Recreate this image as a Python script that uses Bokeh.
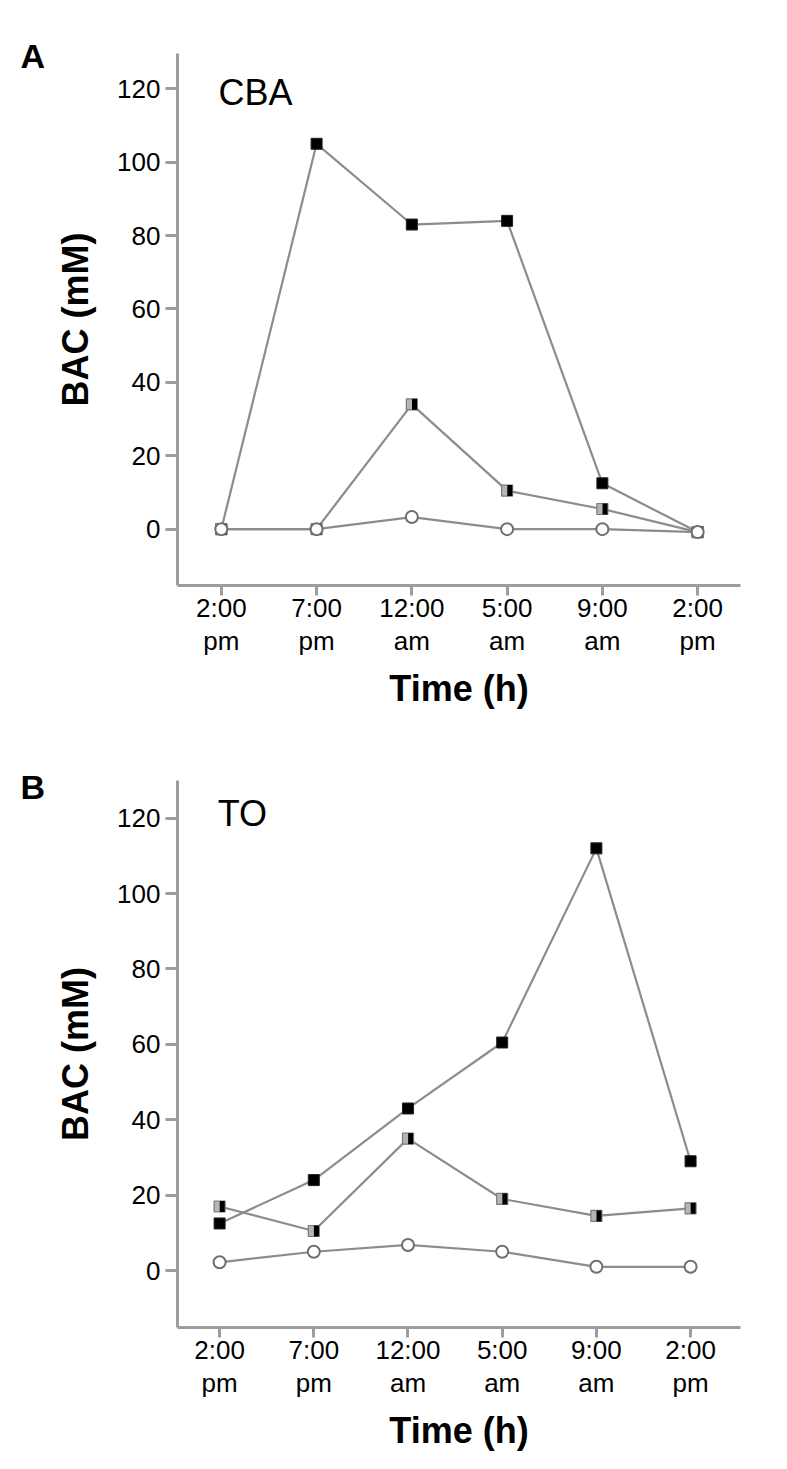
from bokeh.plotting import figure
from bokeh.models import ColumnDataSource, Range1d, Label
from bokeh.layouts import column
from bokeh.transform import dodge
from bokeh.embed import file_html
from bokeh.resources import INLINE

# ---------------- data ----------------
time_labels = ["2:00\npm", "7:00\npm", "12:00\nam", "5:00\nam", "9:00\nam", "2:00\npm"]
time_index = [0, 1, 2, 3, 4, 5]
y_ticks = [0, 20, 40, 60, 80, 100, 120]

cba_high = [0, 105, 83, 84, 12.5, -0.8]
cba_mid = [0, 0, 34, 10.5, 5.5, -0.8]
cba_low = [0, 0, 3.3, 0, 0, -0.8]

to_high = [12.5, 24, 43, 60.5, 112, 29]
to_mid = [17, 10.5, 35, 19, 14.5, 16.5]
to_low = [2.2, 5, 6.8, 5, 1, 1]

FONT = "Liberation Sans"
AXIS_GRAY = "#9d9d9d"
LINE_GRAY = "#8c8c8c"
W = 787


def make_panel(letter, strain, high, mid, low, height, b_top, b_bottom, b_right,
               x_range, y_range, letter_standoff, strain_pos):
    p = figure(width=W, height=height, output_backend="svg", toolbar_location=None,
               x_range=Range1d(*x_range), y_range=Range1d(*y_range),
               min_border_left=177, min_border_right=b_right,
               min_border_top=b_top, min_border_bottom=b_bottom)
    p.outline_line_color = None
    p.grid.visible = False
    p.background_fill_color = "white"

    # panel letter as the plot title, pulled to the left of the frame
    p.title.text = letter
    p.title.align = "left"
    p.title.offset = -157
    p.title.standoff = letter_standoff
    p.title.text_font = FONT
    p.title.text_font_size = "34px"
    p.title.text_font_style = "bold"
    p.title.text_color = "black"

    src = ColumnDataSource(dict(x=time_index, high=high, mid=mid, low=low))

    for col in ("high", "mid", "low"):
        p.line("x", col, source=src, line_color=LINE_GRAY, line_width=2.2)

    # filled squares
    p.scatter("x", "high", source=src, marker="square", size=11,
              fill_color="black", line_color="#222222")
    # half-filled squares
    p.scatter("x", "mid", source=src, marker="square", size=11,
              fill_color="#b5b5b5", line_color="#7a7a7a", line_width=1.2)
    p.rect(x=dodge("x", 0.028, range=p.x_range), y="mid", source=src,
           width=5, height=11, width_units="screen", height_units="screen",
           fill_color="black", line_color=None)
    # open circles
    p.scatter("x", "low", source=src, marker="circle", size=12,
              fill_color="white", line_color="#6f6f6f", line_width=2)

    # axes
    p.xaxis.ticker = time_index
    p.xaxis.major_label_overrides = {i: t for i, t in zip(time_index, time_labels)}
    p.yaxis.ticker = y_ticks
    for ax in (p.xaxis[0], p.yaxis[0]):
        ax.axis_line_color = AXIS_GRAY
        ax.axis_line_width = 3
        ax.major_tick_line_color = AXIS_GRAY
        ax.major_tick_line_width = 3
        ax.major_tick_in = 0
        ax.minor_tick_line_color = None
        ax.major_label_text_font = FONT
        ax.major_label_text_font_size = "26px"
        ax.major_label_text_color = "black"
        ax.major_label_text_line_height = 1.12
        ax.axis_label_text_font = FONT
        ax.axis_label_text_font_size = "36px"
        ax.axis_label_text_font_style = "bold"
        ax.axis_label_text_color = "black"
        ax.axis_label_text_line_height = 1.0
    p.xaxis.major_tick_out = 10
    p.yaxis.major_tick_out = 12
    p.xaxis.major_label_standoff = -3
    p.yaxis.major_label_standoff = 5
    p.xaxis.axis_label = "Time (h)"
    p.yaxis.axis_label = "BAC (mM)"
    p.xaxis.axis_label_standoff = 9
    p.yaxis.axis_label_standoff = 18

    p.add_layout(Label(x=strain_pos[0], y=strain_pos[1], text=strain,
                       text_font=FONT, text_font_size="36px",
                       text_color="black", text_baseline="alphabetic"))
    return p


pA = make_panel("A", "CBA", cba_high, cba_mid, cba_low,
                height=712, b_top=53, b_bottom=116, b_right=W - 740,
                x_range=(-0.46, 5.45), y_range=(-15.35, 129.6),
                letter_standoff=-42, strain_pos=(-0.03, 118.9))
pB = make_panel("B", "TO", to_high, to_mid, to_low,
                height=757, b_top=68, b_bottom=142, b_right=W - 752,
                x_range=(-0.447, 5.53), y_range=(-15.1, 130.0),
                letter_standoff=-50, strain_pos=(-0.02, 121.3))

layout = column(pA, pB)
open("out.html", "w").write(file_html(layout, INLINE))
